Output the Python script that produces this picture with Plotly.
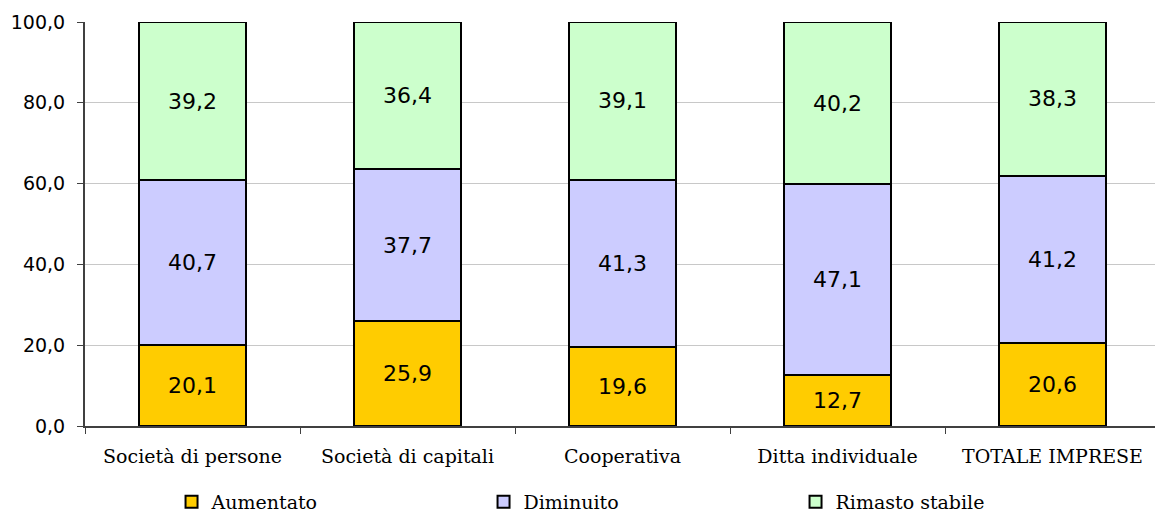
import plotly.graph_objects as go

categories = ["Società di persone", "Società di capitali", "Cooperativa", "Ditta individuale", "TOTALE IMPRESE"]
aumentato = [20.1, 25.9, 19.6, 12.7, 20.6]
diminuito = [40.7, 37.7, 41.3, 47.1, 41.2]
rimasto = [39.2, 36.4, 39.1, 40.2, 38.3]
series_names = ["Aumentato", "Diminuito", "Rimasto stabile"]
colors = ["#FFCC00", "#CCCCFF", "#CCFFCC"]
y_ticks = [0, 20, 40, 60, 80, 100]

fig = go.Figure()
for name, vals, col in zip(series_names, [aumentato, diminuito, rimasto], colors):
    fig.add_trace(go.Bar(
        x=categories, y=vals, name=name,
        marker=dict(color=col, line=dict(color="black", width=2)),
        text=vals, texttemplate="%{y:.1f}", textposition="inside",
        insidetextanchor="middle", constraintext="none",
        textfont=dict(family="DejaVu Sans", size=22, color="black"),
    ))

fig.update_layout(
    barmode="stack", bargap=0.5,
    separators=",.",
    width=1155, height=507,
    margin=dict(l=77, r=3, t=14, b=89, autoexpand=False),
    plot_bgcolor="white", paper_bgcolor="white",
    showlegend=True,
    legend=dict(orientation="h", x=0.0805, xanchor="left", y=-0.188, yanchor="middle",
                entrywidth=267, entrywidthmode="pixels", traceorder="normal",
                font=dict(family="DejaVu Serif", size=19, color="black"),
                itemclick=False),
)
fig.update_yaxes(range=[0, 100], tickvals=y_ticks, tickformat=".1f",
                 showgrid=True, gridcolor="#C8C8C8", gridwidth=1,
                 showline=True, linecolor="#404040", linewidth=2,
                 ticks="outside", ticklen=6, tickcolor="#404040",
                 ticklabelstandoff=8,
                 tickfont=dict(family="DejaVu Sans", size=19, color="black"),
                 zeroline=False)
fig.update_xaxes(showline=True, linecolor="#404040", linewidth=2,
                 ticks="outside", tickson="boundaries", ticklen=6, tickcolor="#404040",
                 ticklabelstandoff=12,
                 tickfont=dict(family="DejaVu Serif", size=19, color="black"))

fig.write_html("out.html")
